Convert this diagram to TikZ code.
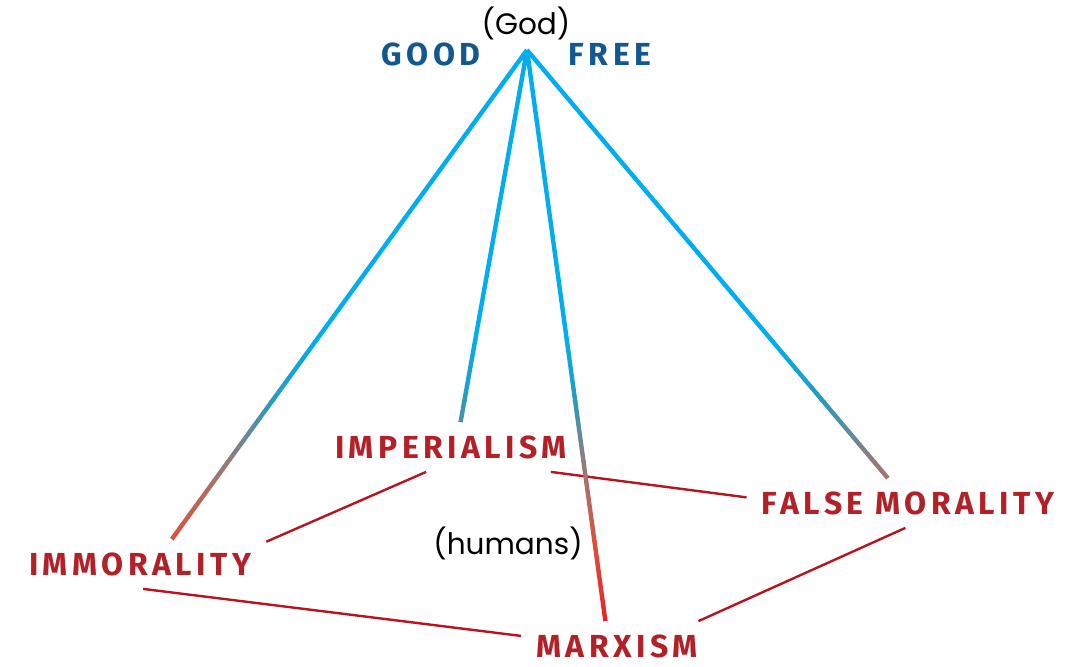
\documentclass[tikz,border=0pt]{standalone}
\usepackage{fontspec}
\usepackage{tikz}
\usetikzlibrary{calc}
\newfontfamily\markfont{Fira Sans}[LetterSpace=14]
\newfontfamily\plainfont{Poppins}
\definecolor{skyblue}{RGB}{0,174,239}
\definecolor{beamteal}{RGB}{40,155,188}
\definecolor{beamgrey}{RGB}{145,125,125}
\definecolor{beamorange}{RGB}{222,80,58}
\definecolor{beamred}{RGB}{237,28,36}
\definecolor{godblue}{RGB}{18,88,142}
\definecolor{humanred}{RGB}{178,32,40}
\definecolor{linkred}{RGB}{185,20,30}
% thin band along a line, used as clip path for the shaded beams
\newcommand{\beam}[2]{($(#1)!0.055cm!90:(#2)$) -- ($(#2)!0.055cm!-90:(#1)$) -- ($(#2)!0.055cm!90:(#1)$) -- ($(#1)!0.055cm!-90:(#2)$) -- cycle}

\begin{document}
\begin{tikzpicture}[x=0.025cm,y=-0.025cm,
    godlabel/.style={font=\markfont\bfseries\fontsize{22.7}{27}\selectfont,text=godblue,inner sep=0},
    humanlabel/.style={font=\markfont\bfseries\fontsize{22.7}{27}\selectfont,text=humanred,
                       inner xsep=0.375cm,inner ysep=0.325cm},
    note/.style={font=\plainfont\fontsize{21}{25}\selectfont,inner sep=0},
    link/.style={draw=linkred,line width=0.06cm}]
  \useasboundingbox (0,0) rectangle (1085,666);

  % top
  \node[note] (god) at (526,23) {(God)};
  \node[godlabel] (good) at (431,54) {GOOD};
  \node[godlabel] (free) at (610,54) {FREE};
  \coordinate (apex) at (527,50);

  % bottom
  \node[humanlabel] (imperialism) at (451,447) {IMPERIALISM};
  \node[humanlabel] (immorality) at (140,564) {IMMORALITY};
  \node[humanlabel] (falsemor) at (908,503) {FALSE MORALITY};
  \node[humanlabel] (marxism) at (617,646) {MARXISM};
  \node[note] (humans) at (508,543) {(humans)};

  % links between the human labels
  \draw[link] (immorality.10) -- (imperialism.225);
  \draw[link] (imperialism.-14) -- (falsemor.178);
  \draw[link] (falsemor.264) -- (marxism.17);
  \draw[link] (immorality.277) -- (marxism.174);

  % beams from God
  \begin{scope}
    \clip \beam{apex}{immorality.38} \beam{apex}{imperialism.69}
          \beam{apex}{marxism.115} \beam{apex}{falsemor.129};
    \fill[skyblue] (0,40) rectangle (1085,341);
    \shade[top color=skyblue,bottom color=beamteal] (0,340) rectangle (1085,401);
    \shade[top color=beamteal,bottom color=beamgrey] (0,400) rectangle (1085,461);
    \shade[top color=beamgrey,bottom color=beamorange] (0,460) rectangle (1085,541);
    \shade[top color=beamorange,bottom color=beamred] (0,540) rectangle (1085,630);
  \end{scope}
\end{tikzpicture}
\end{document}
